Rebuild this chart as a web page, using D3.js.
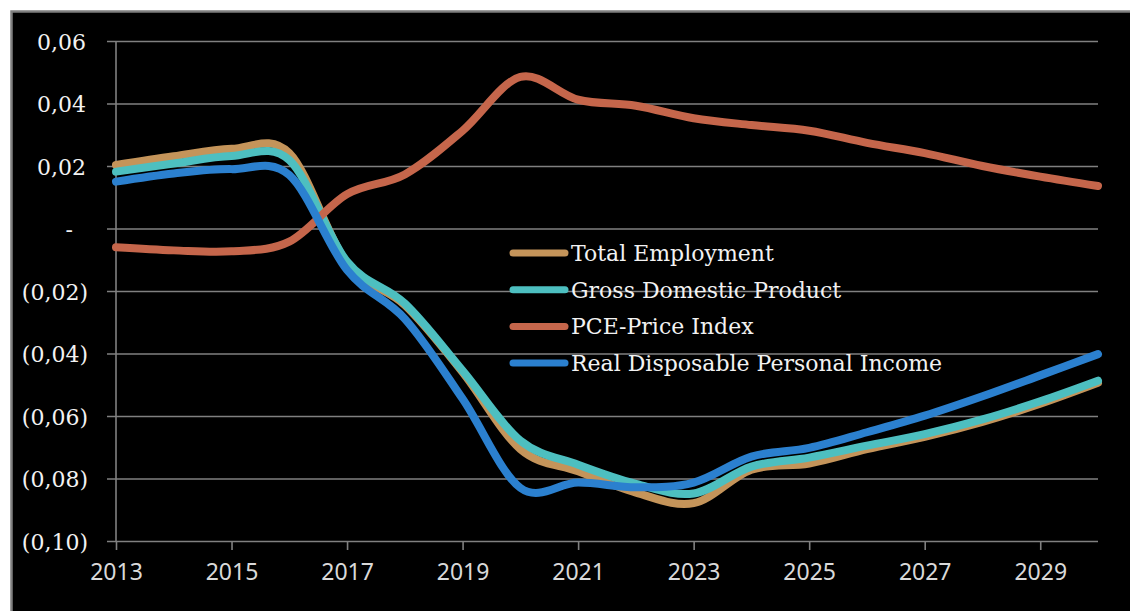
<!DOCTYPE html>
<html>
<head>
<meta charset="utf-8">
<script src="https://cdn.jsdelivr.net/npm/d3@7"></script>
<style>
  body { margin: 0; background: #ffffff; }
  svg { display: block; }
</style>
</head>
<body>
<svg id="chart"></svg>
<script>
// ---- data (annual values) ----
const years = [2013, 2014, 2015, 2016, 2017, 2018, 2019, 2020, 2021, 2022, 2023, 2024, 2025, 2026, 2027, 2028, 2029, 2030];
const totalEmployment = [0.0203, 0.0231, 0.0255, 0.0241, -0.0112, -0.0245, -0.0460, -0.0706, -0.0777, -0.0845, -0.0879, -0.0772, -0.0752, -0.0706, -0.0667, -0.0619, -0.0561, -0.0494];
const grossDomesticProduct = [0.0182, 0.0208, 0.0232, 0.0219, -0.0106, -0.0240, -0.0455, -0.0679, -0.0756, -0.0817, -0.0848, -0.0762, -0.0733, -0.0695, -0.0658, -0.0611, -0.0553, -0.0487];
const pcePriceIndex = [-0.0060, -0.0070, -0.0073, -0.0042, 0.0110, 0.0173, 0.0313, 0.0485, 0.0412, 0.0393, 0.0353, 0.0331, 0.0313, 0.0274, 0.0241, 0.0200, 0.0166, 0.0136];
const realDisposableIncome = [0.0150, 0.0176, 0.0190, 0.0171, -0.0133, -0.0289, -0.0545, -0.0830, -0.0813, -0.0828, -0.0813, -0.0730, -0.0702, -0.0652, -0.0599, -0.0537, -0.0470, -0.0402];

const seriesNames = ["Total Employment", "Gross Domestic Product", "PCE-Price Index", "Real Disposable Personal Income"];
const seriesValues = [totalEmployment, grossDomesticProduct, pcePriceIndex, realDisposableIncome];
const colors = ["#c4945a", "#4dbfc0", "#c5664b", "#2b80cf"];

const yTicks = [0.06, 0.04, 0.02, 0, -0.02, -0.04, -0.06, -0.08, -0.10];
const xTicks = [2013, 2015, 2017, 2019, 2021, 2023, 2025, 2027, 2029];

// ---- layout ----
const W = 1130, H = 611;
const margin = { top: 41, right: 32, bottom: 70, left: 116 };
const width = W - margin.left - margin.right;
const height = H - margin.top - margin.bottom;

const svg = d3.select("#chart").attr("width", W).attr("height", H);

// black panel with grey frame
svg.append("rect")
  .attr("x", 11.5).attr("y", 11.5)
  .attr("width", W).attr("height", H)
  .attr("fill", "#000").attr("stroke", "#7f7f7f").attr("stroke-width", 2.5);

const chart = svg.append("g").attr("transform", `translate(${margin.left},${margin.top})`);

const x = d3.scaleLinear().domain([2013, 2030]).range([0, width]);
const y = d3.scaleLinear().domain([-0.10, 0.06]).range([height, 0]);

// number format like "0,06" / "(0,02)" / "-"
const fmt = (d) => {
  if (Math.abs(d) < 1e-9) return "-";
  const s = Math.abs(d).toFixed(2).replace(".", ",");
  return d < 0 ? `(${s})` : s;
};

// Y axis with gridlines
const yAxis = chart.append("g").call(d3.axisLeft(y).tickValues(yTicks).tickSize(-width).tickPadding(28).tickFormat(fmt));
yAxis.select(".domain").remove();
yAxis.selectAll(".tick line").attr("x1", -9).attr("stroke", "#808080").attr("stroke-width", 1.6);
yAxis.selectAll(".tick text")
  .attr("fill", "#f2f2f2")
  .style("font-family", "'DejaVu Serif', serif")
  .style("font-size", "22px")
  .attr("dy", "0.38em")
  .attr("dx", (d) => (Math.abs(d) < 1e-9 ? -15 : (d > 0 ? -2 : 0)));

// vertical axis line
chart.append("line").attr("x1", 0).attr("x2", 0).attr("y1", 0).attr("y2", height)
  .attr("stroke", "#808080").attr("stroke-width", 1.6);

// X axis
const xAxis = chart.append("g").attr("transform", `translate(0,${height})`)
  .call(d3.axisBottom(x).tickValues(xTicks).tickSize(9).tickPadding(14).tickFormat(d3.format("d")));
xAxis.select(".domain").remove();
xAxis.selectAll(".tick line").attr("stroke", "#808080").attr("stroke-width", 1.6);
xAxis.selectAll(".tick text")
  .attr("fill", "#d9d9d9")
  .style("font-family", "'Noto Sans', sans-serif")
  .style("font-size", "23px");

// lines
const line = d3.line()
  .x((d, i) => x(years[i]))
  .y((d) => y(d))
  .curve(d3.curveCatmullRom.alpha(0));

chart.selectAll(".series").data(seriesValues).join("path")
  .attr("class", "series")
  .attr("d", line)
  .attr("fill", "none")
  .attr("stroke", (d, i) => colors[i])
  .attr("stroke-width", 8)
  .attr("stroke-linecap", "round")
  .attr("stroke-linejoin", "round");

// legend
const legend = svg.append("g").attr("transform", "translate(510,253)");
const items = legend.selectAll(".legend-item").data(seriesNames).join("g")
  .attr("class", "legend-item")
  .attr("transform", (d, i) => `translate(0,${i * 36.7})`);

items.append("line").attr("x1", 3).attr("x2", 55).attr("y1", 0).attr("y2", 0)
  .attr("stroke", (d, i) => colors[i]).attr("stroke-width", 7).attr("stroke-linecap", "round");

items.append("text")
  .attr("x", 61).attr("y", 0).attr("dy", "0.36em")
  .attr("fill", "#f2f2f2")
  .style("font-family", "'DejaVu Serif', serif")
  .style("font-size", "22px")
  .text((d) => d);
</script>
</body>
</html>
